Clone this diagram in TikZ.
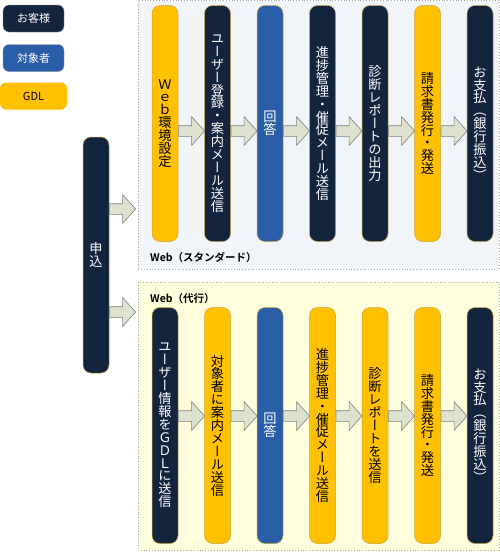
\documentclass[tikz,border=0pt]{standalone}
\usepackage{fontspec}
\setmainfont{Noto Sans CJK JP}[BoldFont={* Bold}]
\newfontfamily\tatefont{Noto Sans CJK JP}[RawFeature=+vert]
\usetikzlibrary{shapes.arrows, positioning}
\definecolor{navy}{HTML}{13243F}
\definecolor{taishoblue}{HTML}{2B5EA8}
\definecolor{gdlyellow}{HTML}{FFC000}
\definecolor{arrowfill}{HTML}{DDE2CF}
\definecolor{stdbg}{HTML}{F1F4F8}
\definecolor{daikobg}{HTML}{FFFFDD}
\definecolor{rim}{HTML}{C8A640}
\newcommand\tate[1]{{\tatefont\fontsize{13.2}{12.9}\selectfont\lineskiplimit=-20pt\vbox{\tateloop#1\tateend}}}
\def\tateloop#1{\ifx#1\tateend\else\hbox to 13pt{\hss#1\hss}\expandafter\tateloop\fi}
\tikzstyle{bar} = [rectangle, rounded corners=8pt, minimum width=26pt, minimum height=236pt,
    inner sep=0pt, draw=rim, line width=0.5pt]
\tikzstyle{kyaku} = [bar, fill=navy, text=white]
\tikzstyle{taisho} = [bar, fill=taishoblue, text=white]
\tikzstyle{gdl} = [bar, fill=gdlyellow, text=black]
\tikzstyle{flow} = [single arrow, single arrow tip angle=96, single arrow head extend=9pt,
    minimum height=26pt, inner xsep=0pt, inner ysep=5pt, fill=arrowfill, draw=gray, line width=0.6pt]
\tikzstyle{legend} = [rectangle, rounded corners=6pt, minimum width=61pt, minimum height=27pt,
    font=\fontsize{11}{12}\selectfont]
\tikzstyle{frame} = [draw=gray!70, dotted, line width=0.8pt]
\tikzstyle{caption} = [anchor=base west, inner sep=0pt, font=\bfseries\fontsize{10.5}{12}\selectfont]

\begin{document}
\begin{tikzpicture}[x=1pt, y=-1pt, node distance=26pt]
  \useasboundingbox (0,0) rectangle (500,552);
  \fill[stdbg] (138,0.7) rectangle (499.3,269);
  \draw[frame] (138,0.7) rectangle (499.3,269);
  \fill[daikobg] (138,282) rectangle (499.3,550.7);
  \draw[frame] (138,282) rectangle (499.3,550.7);

  \node (lkyaku)  [legend, fill=navy, text=white, draw=gray!80] at (33.5,18.5) {お客様};
  \node (ltaisho) [legend, fill=taishoblue, text=white, draw=gray!80] at (33.5,58) {対象者};
  \node (lgdl)    [legend, fill=gdlyellow, minimum width=67pt] at (33.5,96) {GDL};

  \node (moshikomi) [kyaku] at (96,255) {\tate{申込}};

  \node (s1) [gdl] at (165,123.5) {\tate{Ｗｅｂ環境設定}};
  \node (s2) [kyaku, right=of s1] {\tate{ユーザー登録・案内メール送信}};
  \node (s3) [taisho, right=of s2] {\tate{回答}};
  \node (s4) [kyaku, right=of s3] {\tate{進捗管理・催促メール送信}};
  \node (s5) [kyaku, right=of s4] {\tate{診断レポートの出力}};
  \node (s6) [gdl, right=of s5] {\tate{請求書発行・発送}};
  \node (s7) [kyaku, right=of s6] {\tate{お支払（銀行振込）}};
  \node (stdlabel) [caption] at (150,261) {Web（スタンダード）};

  \node (d1) [kyaku] at (165,425.5) {\tate{ユーザー情報をＧＤＬに送信}};
  \node (d2) [gdl, right=of d1] {\tate{対象者に案内メール送信}};
  \node (d3) [taisho, right=of d2] {\tate{回答}};
  \node (d4) [gdl, right=of d3] {\tate{進捗管理・催促メール送信}};
  \node (d5) [gdl, right=of d4] {\tate{診断レポートを送信}};
  \node (d6) [gdl, right=of d5] {\tate{請求書発行・発送}};
  \node (d7) [kyaku, right=of d6] {\tate{お支払（銀行振込）}};
  \node (daikolabel) [caption] at (150,302) {Web（代行）};

  \node (m1) [flow, anchor=west] at ([yshift=46pt]moshikomi.east) {};
  \node (m2) [flow, anchor=west] at ([yshift=-57pt]moshikomi.east) {};

  \node (s12) [flow, anchor=west] at ([yshift=-7.5pt]s1.east) {};
  \node (s23) [flow, anchor=west] at ([yshift=-7.5pt]s2.east) {};
  \node (s34) [flow, anchor=west] at ([yshift=-7.5pt]s3.east) {};
  \node (s45) [flow, anchor=west] at ([yshift=-7.5pt]s4.east) {};
  \node (s56) [flow, anchor=west] at ([yshift=-7.5pt]s5.east) {};
  \node (s67) [flow, anchor=west] at ([yshift=-7.5pt]s6.east) {};

  \node (d12) [flow, anchor=west] at ([yshift=9.5pt]d1.east) {};
  \node (d23) [flow, anchor=west] at ([yshift=9.5pt]d2.east) {};
  \node (d34) [flow, anchor=west] at ([yshift=9.5pt]d3.east) {};
  \node (d45) [flow, anchor=west] at ([yshift=9.5pt]d4.east) {};
  \node (d56) [flow, anchor=west] at ([yshift=9.5pt]d5.east) {};
  \node (d67) [flow, anchor=west] at ([yshift=9.5pt]d6.east) {};
\end{tikzpicture}
\end{document}
